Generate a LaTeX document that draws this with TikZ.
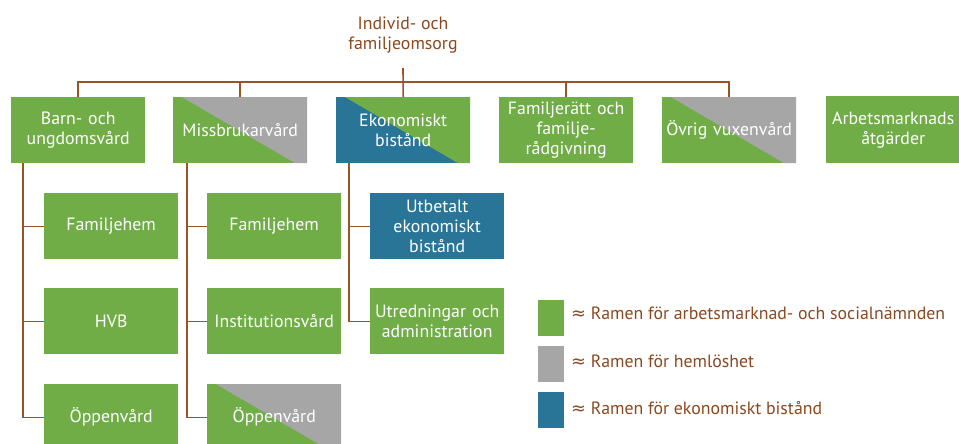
\documentclass[tikz,border=0pt]{standalone}
\usepackage{fontspec}
\setmainfont{PT Sans}
\newfontfamily\symfont{DejaVu Sans}
\definecolor{grn}{RGB}{112,173,71}
\definecolor{gry}{RGB}{166,166,166}
\definecolor{blu}{RGB}{41,117,152}
\definecolor{brn}{RGB}{155,82,36}
\definecolor{txtbrn}{RGB}{140,72,30}
\begin{document}
\begin{tikzpicture}[x=1pt,y=-1pt,
  box/.style={rectangle, fill=grn, minimum width=134pt, minimum height=66pt, inner sep=1pt,
    text=white, align=center, text width=132pt, anchor=north west,
    font=\fontsize{17.8}{20}\selectfont},
  split/.style 2 args={fill=#1, path picture={\fill[#2]
    ([xshift=9pt]path picture bounding box.north west) -- (path picture bounding box.north east)
    -- (path picture bounding box.south east) -- ([xshift=-12pt]path picture bounding box.south east) -- cycle;}},
  conn/.style={draw=brn, line width=1.6pt},
  subconn/.style={draw=brn, line width=1.2pt},
  title/.style={align=center, text=txtbrn, font=\fontsize{17.8}{20}\selectfont},
  legsq/.style={rectangle, minimum width=26pt, minimum height=36pt, inner sep=0pt, anchor=north west},
  legtxt/.style={anchor=west, inner sep=0pt, text=txtbrn, font=\fontsize{17.8}{20}\selectfont}
]
\useasboundingbox (0,0) rectangle (959,444);
\clip (0,0) rectangle (959,444);

% title
\node[title] (t) at (403,35) {Individ- och\\familjeomsorg};
\coordinate (hub) at (403,68);
\coordinate (bus) at (403,82);

% top level
\node[box] (barn) at (11,97) {Barn- och\\ungdomsvård};
\node[box, split={grn}{gry}] (miss) at (173,97) {Missbrukarvård};
\node[box, split={blu}{grn}] (eko) at (336,97) {Ekonomiskt\\bistånd};
\node[box] (fam) at (499,97) {Familjerätt och\\familje-\\rådgivning};
\node[box, split={grn}{gry}] (ovr) at (662,97) {Övrig vuxenvård};
\node[box, minimum height=67pt] (arb) at (826,96) {Arbetsmarknads\\åtgärder};

\draw[conn] (hub) -- (eko.north);
\draw[conn] (barn.north) |- (bus);
\draw[conn] (miss.north) |- (bus);
\draw[conn] (fam.north) |- (bus);
\draw[conn] (ovr.north) |- (bus);

% children
\node[box] (b1) at (44,193) {Familjehem};
\node[box] (b2) at (44,288) {HVB};
\node[box] (b3) at (44,384) {Öppenvård};
\node[box] (m1) at (207,193) {Familjehem};
\node[box] (m2) at (207,288) {Institutionsvård};
\node[box, split={grn}{gry}] (m3) at (207,384) {Öppenvård};
\node[box, fill=blu] (e1) at (370,193) {Utbetalt\\ekonomiskt\\bistånd};
\node[box] (e2) at (370,288) {Utredningar och\\administration};

\draw[subconn] ([xshift=12pt]barn.south west) |- (b1.west);
\draw[subconn] ([xshift=12pt]barn.south west) |- (b2.west);
\draw[subconn] ([xshift=12pt]barn.south west) |- (b3.west);
\draw[subconn] ([xshift=14pt]miss.south west) |- (m1.west);
\draw[subconn] ([xshift=14pt]miss.south west) |- (m2.west);
\draw[subconn] ([xshift=14pt]miss.south west) |- (m3.west);
\draw[subconn] ([xshift=13pt]eko.south west) |- (e1.west);
\draw[subconn] ([xshift=13pt]eko.south west) |- (e2.west);

% legend
\node[legsq, fill=grn] (l1) at (538,300) {};
\node[legsq, fill=gry] (l2) at (538,346) {};
\node[legsq, fill=blu] (l3) at (538,392) {};
\node[legtxt] (lt1) at (571,313) {{\symfont ≈} Ramen för arbetsmarknad- och socialnämnden};
\node[legtxt] (lt2) at (571,361) {{\symfont ≈} Ramen för hemlöshet};
\node[legtxt] (lt3) at (571,408) {{\symfont ≈} Ramen för ekonomiskt bistånd};
\end{tikzpicture}
\end{document}
